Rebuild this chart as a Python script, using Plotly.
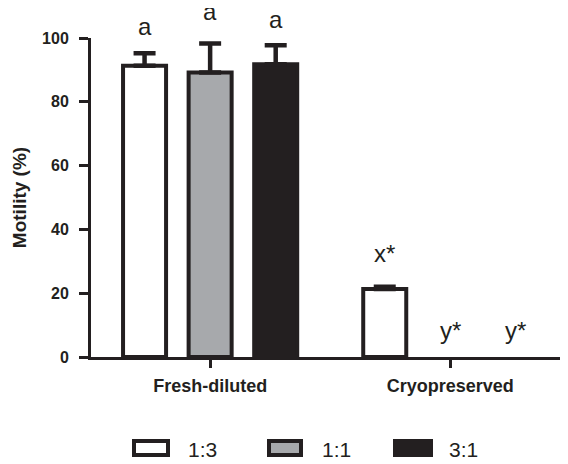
import plotly.graph_objects as go

categories = ["Fresh-diluted", "Cryopreserved"]
series_names = ["1:3", "1:1", "3:1"]
series_colors = ["#ffffff", "#a7a9ac", "#231f20"]
motility = {
    "1:3": [91.3, 21.3],
    "1:1": [89.2, 0.0],
    "3:1": [91.8, 0.0],
}
errors = {
    "1:3": [3.9, 0.7],
    "1:1": [9.1, 0.0],
    "3:1": [5.9, 0.0],
}
letters = {
    "1:3": ["a", "x*"],
    "1:1": ["a", "y*"],
    "3:1": ["a", "y*"],
}
# pixel lift of each letter above its error-bar top
letter_shift = {
    "1:3": [10.9, 17.8],
    "1:1": [16.2, 11.5],
    "3:1": [10.6, 11.5],
}
y_ticks = [0, 20, 40, 60, 80, 100]

INK = "#231f20"
FONT = "Liberation Sans, Arial, Helvetica, sans-serif"


def drawn_errors(errs):
    # drop trailing zero errors so no cap is drawn on empty bars
    out = list(errs)
    while out and out[-1] == 0:
        out.pop()
    return out


fig = go.Figure()
for name, color in zip(series_names, series_colors):
    up = drawn_errors(errors[name])
    fig.add_trace(go.Bar(
        x=categories, y=motility[name], name=name,
        marker=dict(color=color,
                    line=dict(color=INK, width=[4 if v > 0 else 0 for v in motility[name]])),
        error_y=dict(type="data", array=up, arrayminus=[0] * len(up),
                     symmetric=False, color=INK, thickness=4.5, width=11),
        showlegend=False,
    ))

# significance letters over each bar, positioned through the axis scale
slot = 0.273
for i, name in enumerate(series_names):
    for j, cat in enumerate(categories):
        fig.add_annotation(
            x=j + (i - 1) * slot, y=motility[name][j] + errors[name][j],
            xref="x", yref="y", yshift=letter_shift[name][j],
            text=letters[name][j], showarrow=False, yanchor="bottom",
            font=dict(family=FONT, size=24, color=INK),
        )

# page body has an 8px margin; figure is sized to fit the 568x464 window
OFF = 8
W, H = 568 - OFF, 464 - OFF
L, R, T, B = 91 - OFF, 0, 38 - OFF, 107
pw = W - L - R
ph = H - T - B

def px(x):
    return (x - OFF - L) / pw

def py(y):
    return (H - B - (y - OFF)) / ph

leg_x = [[132, 170], [267, 303], [393, 433]]
leg_tx = [202.5, 336.5, 463.5]
for i, name in enumerate(series_names):
    fig.add_shape(type="rect", xref="paper", yref="paper",
                  x0=px(leg_x[i][0] + 2), x1=px(leg_x[i][1] - 2),
                  y0=py(439 + 2), y1=py(457 - 2),
                  fillcolor=series_colors[i], line=dict(color=INK, width=4))
    fig.add_annotation(x=px(leg_tx[i]), y=py(449), xref="paper", yref="paper",
                       text=name, showarrow=False, xanchor="center", yanchor="middle",
                       font=dict(family=FONT, size=21, color=INK))

fig.update_layout(
    width=W, height=H,
    margin=dict(l=L, r=R, t=T, b=B, pad=0),
    paper_bgcolor="white", plot_bgcolor="white",
    barmode="group", bargap=0.181, bargroupgap=0.344,
    font=dict(family=FONT, color=INK),
    xaxis=dict(
        range=[-0.496, 1.49], showline=True, linecolor=INK, linewidth=3,
        ticks="outside", ticklen=8, tickwidth=2.5, tickcolor=INK,
        ticklabelstandoff=2,
        tickfont=dict(family=FONT, size=18, color=INK, weight="bold"),
        showgrid=False, zeroline=False, fixedrange=True,
    ),
    yaxis=dict(
        range=[0, 100], tickvals=y_ticks, showline=True, linecolor=INK, linewidth=3,
        ticks="outside", ticklen=9, tickwidth=2.5, tickcolor=INK,
        ticklabelstandoff=7,
        tickfont=dict(family=FONT, size=16, color=INK, weight="bold"),
        title=dict(text="Motility (%)", font=dict(family=FONT, size=19, color=INK, weight="bold"), standoff=11),
        showgrid=False, zeroline=False, fixedrange=True,
    ),
)

fig.write_html("out.html")
